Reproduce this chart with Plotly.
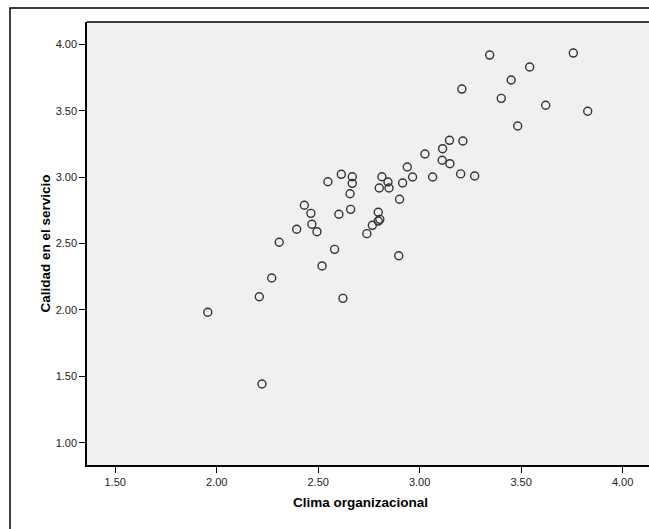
import plotly.graph_objects as go

clima = [1.956, 2.223, 2.210, 2.271, 2.308, 2.394, 2.432, 2.464, 2.469, 2.494,
         2.519, 2.548, 2.622, 2.614, 2.668, 2.668, 2.657, 2.660, 2.602, 2.581,
         2.814, 2.844, 2.801, 2.849, 2.916, 2.901, 2.939, 2.965, 3.026, 3.113,
         3.111, 3.149, 3.064, 3.202, 3.271, 2.796, 2.804, 2.796, 2.767, 2.740,
         2.897, 3.208, 3.345, 3.451, 3.542, 3.402, 3.621, 3.483, 3.757, 3.828,
         3.147, 3.213]
calidad = [1.982, 1.442, 2.099, 2.240, 2.509, 2.607, 2.788, 2.727, 2.645, 2.589,
           2.331, 2.965, 2.087, 3.021, 3.003, 2.953, 2.875, 2.757, 2.720, 2.456,
           3.003, 2.963, 2.918, 2.918, 2.956, 2.833, 3.076, 3.001, 3.174, 3.214,
           3.127, 3.101, 3.001, 3.024, 3.008, 2.735, 2.682, 2.669, 2.637, 2.574,
           2.408, 3.663, 3.919, 3.731, 3.829, 3.593, 3.541, 3.385, 3.934, 3.496,
           3.277, 3.272]

x_ticks = [1.5, 2.0, 2.5, 3.0, 3.5, 4.0]
y_ticks = [1.0, 1.5, 2.0, 2.5, 3.0, 3.5, 4.0]
x_title = "Clima organizacional"
y_title = "Calidad en el servicio"

W, H = 649, 529
L, T, B = 87, 22, 64
PW, PH = W - L, H - T - B

fig = go.Figure()
fig.add_trace(go.Scatter(
    x=clima, y=calidad, mode="markers",
    marker=dict(symbol="circle-open", size=8, color="#333333",
                line=dict(width=1.4, color="#333333")),
    showlegend=False, hoverinfo="skip"))

axis_font = dict(family="Liberation Sans, Arial, sans-serif", size=11, color="#222222")
title_font = dict(family="Liberation Sans, Arial, sans-serif", size=13.5, color="#000000")

fig.update_layout(
    width=W, height=H,
    margin=dict(l=L, r=0, t=T, b=B),
    paper_bgcolor="white",
    plot_bgcolor="#f0f0f0",
    xaxis=dict(range=[1.361, 4.130], tickvals=x_ticks,
               ticktext=[f"{v:.2f}" for v in x_ticks],
               showgrid=False, zeroline=False,
               ticks="outside", ticklen=6, tickwidth=1, tickcolor="#000",
               showline=True, linecolor="#000", linewidth=1.5,
               tickfont=axis_font),
    yaxis=dict(range=[0.832, 4.168], tickvals=y_ticks,
               ticktext=[f"{v:.2f}" for v in y_ticks],
               showgrid=False, zeroline=False,
               ticks="outside", ticklen=6, tickwidth=1, tickcolor="#000",
               showline=True, linecolor="#000", linewidth=1.5,
               tickfont=axis_font),
    annotations=[
        dict(text=f"<b>{x_title}</b>", xref="paper", yref="paper",
             x=(360 - L) / PW, y=(465 - 502) / PH, xanchor="center", yanchor="middle",
             showarrow=False, font=title_font),
        dict(text=f"<b>{y_title}</b>", xref="paper", yref="paper",
             x=(45 - L) / PW, y=0.5, xanchor="center", yanchor="middle",
             textangle=-90, showarrow=False, font=title_font),
    ],
    shapes=[
        dict(type="rect", xref="paper", yref="paper",
             x0=(10 - L) / PW, x1=1.1, y0=-0.5, y1=(465 - 8) / PH,
             line=dict(color="#000", width=1.5), fillcolor="rgba(0,0,0,0)", layer="below"),
        dict(type="line", xref="paper", yref="paper", x0=0, x1=1.1, y0=1, y1=1,
             line=dict(color="#000", width=1.5)),
    ],
)

fig.write_html("out.html",
               config={"displayModeBar": False},
               post_script="document.body.style.margin='0';document.body.style.overflow='hidden';")
